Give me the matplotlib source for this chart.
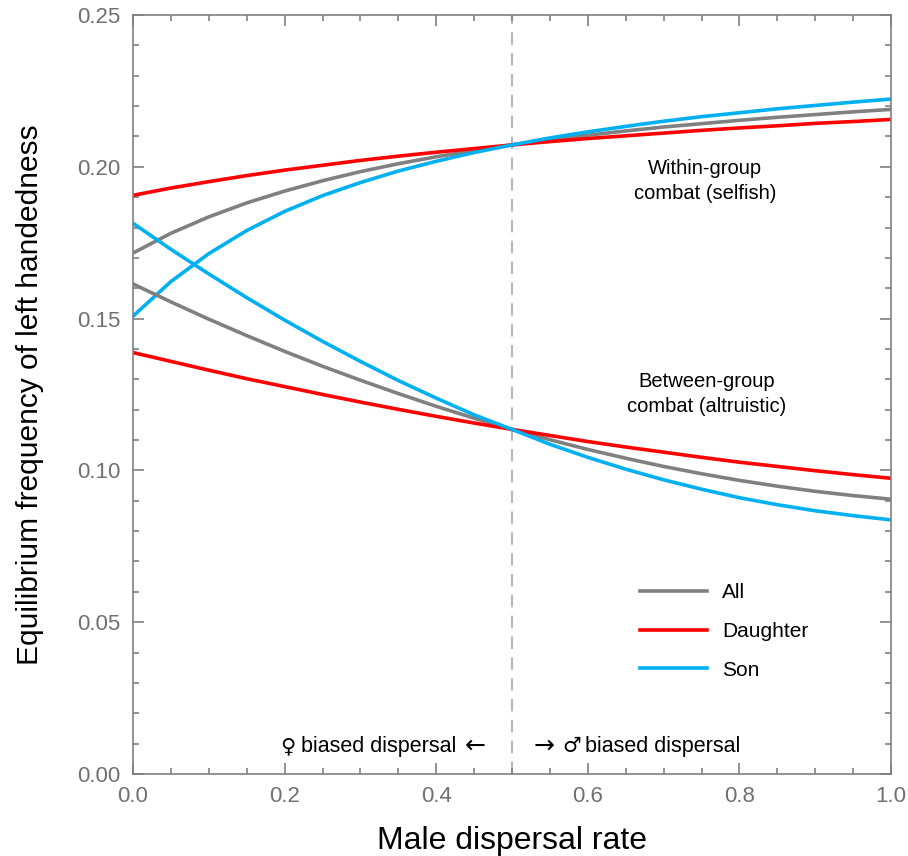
import numpy as np
import matplotlib.pyplot as plt
from matplotlib.ticker import MultipleLocator

plt.rcParams['font.family'] = ['Liberation Sans', 'DejaVu Sans']

# male dispersal rate
x = [0.00, 0.05, 0.10, 0.15, 0.20, 0.25, 0.30, 0.35, 0.40, 0.45, 0.50,
     0.55, 0.60, 0.65, 0.70, 0.75, 0.80, 0.85, 0.90, 0.95, 1.00]

# within-group combat (selfish)
within_all = [0.1716, 0.1781, 0.1835, 0.1881, 0.1920, 0.1954, 0.1984, 0.2010, 0.2033, 0.2053, 0.2072,
              0.2089, 0.2104, 0.2118, 0.2131, 0.2142, 0.2153, 0.2163, 0.2172, 0.2181, 0.2189]
within_daughter = [0.1906, 0.1930, 0.1951, 0.1971, 0.1989, 0.2005, 0.2021, 0.2035, 0.2048, 0.2060, 0.2072,
                   0.2083, 0.2093, 0.2102, 0.2111, 0.2120, 0.2128, 0.2135, 0.2143, 0.2149, 0.2156]
within_son = [0.1508, 0.1622, 0.1714, 0.1790, 0.1853, 0.1905, 0.1948, 0.1986, 0.2018, 0.2047, 0.2072,
              0.2095, 0.2115, 0.2133, 0.2150, 0.2165, 0.2178, 0.2191, 0.2202, 0.2213, 0.2223]

# between-group combat (altruistic)
between_all = [0.1614, 0.1555, 0.1498, 0.1444, 0.1392, 0.1343, 0.1297, 0.1253, 0.1211, 0.1172, 0.1135,
               0.1101, 0.1069, 0.1040, 0.1013, 0.0989, 0.0967, 0.0948, 0.0931, 0.0917, 0.0905]
between_daughter = [0.1388, 0.1359, 0.1330, 0.1302, 0.1276, 0.1250, 0.1225, 0.1201, 0.1178, 0.1156, 0.1135,
                    0.1115, 0.1095, 0.1077, 0.1060, 0.1043, 0.1027, 0.1013, 0.0999, 0.0986, 0.0974]
between_son = [0.1814, 0.1728, 0.1647, 0.1569, 0.1495, 0.1425, 0.1359, 0.1296, 0.1238, 0.1183, 0.1135,
               0.1086, 0.1043, 0.1004, 0.0969, 0.0938, 0.0910, 0.0887, 0.0867, 0.0851, 0.0837]

c_all = '#808080'
c_dau = '#ff0000'
c_son = '#00b0f0'
lw = 2.6

fig = plt.figure(figsize=(9.08, 8.56), dpi=100)
ax = fig.add_axes([0.1465, 0.0958, 0.8348, 0.8867])

ax.axvline(0.5, color='#b8b8b8', lw=1.5, ls=(0, (6, 4)), zorder=1)

ax.plot(x, within_all, color=c_all, lw=lw, label='All')
ax.plot(x, within_daughter, color=c_dau, lw=lw, label='Daughter')
ax.plot(x, within_son, color=c_son, lw=lw, label='Son')
ax.plot(x, between_all, color=c_all, lw=lw)
ax.plot(x, between_daughter, color=c_dau, lw=lw)
ax.plot(x, between_son, color=c_son, lw=lw)

ax.set_xlim(0, 1)
ax.set_ylim(0, 0.25)
ax.xaxis.set_major_locator(MultipleLocator(0.2))
ax.xaxis.set_minor_locator(MultipleLocator(0.05))
ax.yaxis.set_major_locator(MultipleLocator(0.05))
ax.yaxis.set_minor_locator(MultipleLocator(0.01))
ax.xaxis.set_major_formatter(lambda v, p: f'{v:.1f}')
ax.yaxis.set_major_formatter(lambda v, p: f'{v:.2f}')

ax.tick_params(which='both', direction='in', top=True, right=True,
               color='#808080', width=1.2, labelsize=16, labelcolor='#707070', pad=9)
ax.tick_params(which='major', length=8)
ax.tick_params(which='minor', length=4.5)
for s in ax.spines.values():
    s.set_color('#808080')
    s.set_linewidth(1.2)

ax.set_xlabel('Male dispersal rate', fontsize=23, labelpad=13)
ax.set_ylabel('Equilibrium frequency of left handedness', fontsize=21.5, labelpad=24)

ax.text(0.755, 0.1953, 'Within-group\ncombat (selfish)', ha='center', va='center',
        fontsize=14.5, linespacing=1.45)
ax.text(0.757, 0.1252, 'Between-group\ncombat (altruistic)', ha='center', va='center',
        fontsize=14.5, linespacing=1.4)

# dispersal direction labels
yb = 0.0072
sym = dict(va='baseline', ha='center', fontsize=15, family='DejaVu Sans')
arr = dict(va='baseline', ha='center', fontsize=18, family='DejaVu Sans')
ax.text(0.2045, yb, '♀', **sym)
ax.text(0.2215, yb, 'biased dispersal', ha='left', va='baseline', fontsize=15.5)
ax.text(0.4512, yb, '←', **arr)
ax.text(0.5416, yb, '→', **arr)
ax.text(0.5785, yb, '♂', **sym)
ax.text(0.5963, yb, 'biased dispersal', ha='left', va='baseline', fontsize=15.5)

ax.legend(loc='center', bbox_to_anchor=(0.78, 0.188), frameon=False, fontsize=15,
          handlelength=3.2, handletextpad=0.75, labelspacing=0.95)

fig.savefig('out.png', dpi=100)
